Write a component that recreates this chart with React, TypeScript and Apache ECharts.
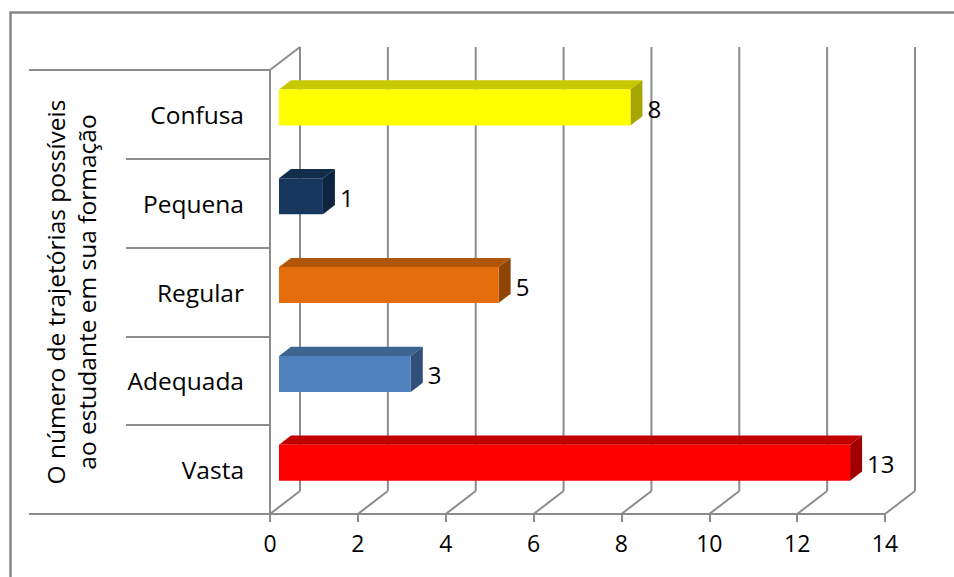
import React, { useEffect, useRef } from "react";
import * as echarts from "echarts";

// Answers to the question, bottom category first
const categories = ["Vasta", "Adequada", "Regular", "Pequena", "Confusa"];
const counts = [13, 3, 5, 1, 8];
const axisTitle = "O número de trajetórias possíveis\nao estudante em sua formação";
const valueMin = 0;
const valueMax = 14;
const valueStep = 2;
const valueTicks = [0, 2, 4, 6, 8, 10, 12, 14];

// Face colours of each box: front, top, right side
const frontColors = ["#FF0000", "#4F81BD", "#E46C0A", "#17375E", "#FFFF00"];
const topColors = ["#C00000", "#3D6592", "#B0560A", "#122C4B", "#C8C800"];
const sideColors = ["#A00000", "#30507A", "#8F4506", "#0F2440", "#A6A600"];

const FONT = "'Open Sans', 'Noto Sans', sans-serif";
const LINE = "#8c8c8c";
const DEPTH_X = 30; // horizontal shift of the back wall
const DEPTH_Y = 23; // vertical shift of the back wall
const BAR_NEAR = 0.3; // depth of a box's front face (fraction of the wall depth)
const BAR_FAR = 0.7; // depth of a box's back face
const BAR_THICK = 0.405; // box height as a fraction of the category band
const GROUP_TICK = 241; // outer tick that encloses the axis title

function renderFrame(params: any, api: any) {
  const cs = params.coordSys;
  const v = api.value(0);
  const fx = api.coord([v, 0])[0];
  const top = cs.y;
  const bottom = cs.y + cs.height;
  const style = { stroke: LINE, lineWidth: 2 };
  const children: any[] = [
    {
      type: "line",
      shape: { x1: fx + DEPTH_X, y1: top - DEPTH_Y, x2: fx + DEPTH_X, y2: bottom - DEPTH_Y },
      style,
    },
    {
      type: "line",
      shape: { x1: fx, y1: bottom, x2: fx + DEPTH_X, y2: bottom - DEPTH_Y },
      style,
    },
  ];
  if (v === valueMin) {
    children.push(
      { type: "line", shape: { x1: fx, y1: top, x2: fx + DEPTH_X, y2: top - DEPTH_Y }, style },
      { type: "line", shape: { x1: fx - GROUP_TICK, y1: top, x2: fx, y2: top }, style },
      { type: "line", shape: { x1: fx - GROUP_TICK, y1: bottom, x2: fx, y2: bottom }, style }
    );
  }
  return { type: "group", children };
}

function renderBar(params: any, api: any) {
  const v = api.value(0);
  const i = api.value(1);
  const p0 = api.coord([valueMin, i]);
  const p1 = api.coord([v, i]);
  const band = api.size([0, 1])[1];
  const h = band * BAR_THICK;
  const nx = DEPTH_X * BAR_NEAR;
  const ny = DEPTH_Y * BAR_NEAR;
  const dx = DEPTH_X * (BAR_FAR - BAR_NEAR);
  const dy = DEPTH_Y * (BAR_FAR - BAR_NEAR);
  const l = p0[0] + nx;
  const r = p1[0] + nx;
  const t = p0[1] - ny - h / 2;
  const b = t + h;
  const idx = params.dataIndex;
  return {
    type: "group",
    children: [
      {
        type: "polygon",
        shape: { points: [[l, t], [r, t], [r + dx, t - dy], [l + dx, t - dy]] },
        style: { fill: topColors[idx] },
      },
      {
        type: "polygon",
        shape: { points: [[r, t], [r + dx, t - dy], [r + dx, b - dy], [r, b]] },
        style: { fill: sideColors[idx] },
      },
      {
        type: "rect",
        shape: { x: l, y: t, width: r - l, height: h },
        style: { fill: frontColors[idx] },
      },
      {
        type: "text",
        style: {
          text: String(v),
          x: r + dx + 5,
          y: (t + b) / 2 + 1,
          fill: "#000",
          fontSize: 24,
          fontFamily: FONT,
          align: "left",
          verticalAlign: "middle",
        },
      },
    ],
  };
}

export default function App() {
  const ref = useRef<HTMLDivElement>(null);

  useEffect(() => {
    if (!ref.current) return;
    const chart = echarts.init(ref.current, undefined, { renderer: "svg" });
    chart.setOption({
      animation: false,
      backgroundColor: "#fff",
      textStyle: { fontFamily: FONT },
      graphic: [
        {
          type: "rect",
          left: 8,
          top: 10,
          shape: { width: 960, height: 600 },
          style: { fill: "none", stroke: "#868686", lineWidth: 2.5 },
          silent: true,
        },
      ],
      grid: { left: 270, top: 70, width: 615, height: 444 },
      xAxis: {
        type: "value",
        min: valueMin,
        max: valueMax,
        interval: valueStep,
        axisLine: { show: true, lineStyle: { color: LINE, width: 2 } },
        axisTick: { show: true, length: 8, lineStyle: { color: LINE, width: 2 } },
        axisLabel: { color: "#000", fontSize: 23, margin: 17, fontFamily: FONT },
        splitLine: { show: false },
      },
      yAxis: {
        type: "category",
        data: categories,
        axisLine: { show: true, lineStyle: { color: LINE, width: 2 } },
        axisTick: { show: true, length: 144, interval: 0, lineStyle: { color: LINE, width: 2 } },
        axisLabel: { color: "#000", fontSize: 24.5, margin: 26, fontFamily: FONT },
        splitLine: { show: false },
        name: axisTitle,
        nameLocation: "middle",
        nameRotate: 90,
        nameGap: 168,
        nameTextStyle: { color: "#000", fontSize: 24.5, lineHeight: 31, fontFamily: FONT, align: "center" },
      },
      series: [
        {
          type: "custom",
          name: "frame",
          renderItem: renderFrame,
          data: valueTicks.map((v) => [v, 0]),
          encode: { x: 0, y: 1 },
          silent: true,
          z: 1,
        },
        {
          type: "custom",
          name: "counts",
          renderItem: renderBar,
          data: counts.map((v, i) => [v, i]),
          encode: { x: 0, y: 1 },
          z: 5,
        },
      ],
    });
    return () => chart.dispose();
  }, []);

  return (
    <div
      ref={ref}
      style={{ position: "fixed", left: 0, top: 0, width: 954, height: 577, background: "#fff" }}
    />
  );
}
